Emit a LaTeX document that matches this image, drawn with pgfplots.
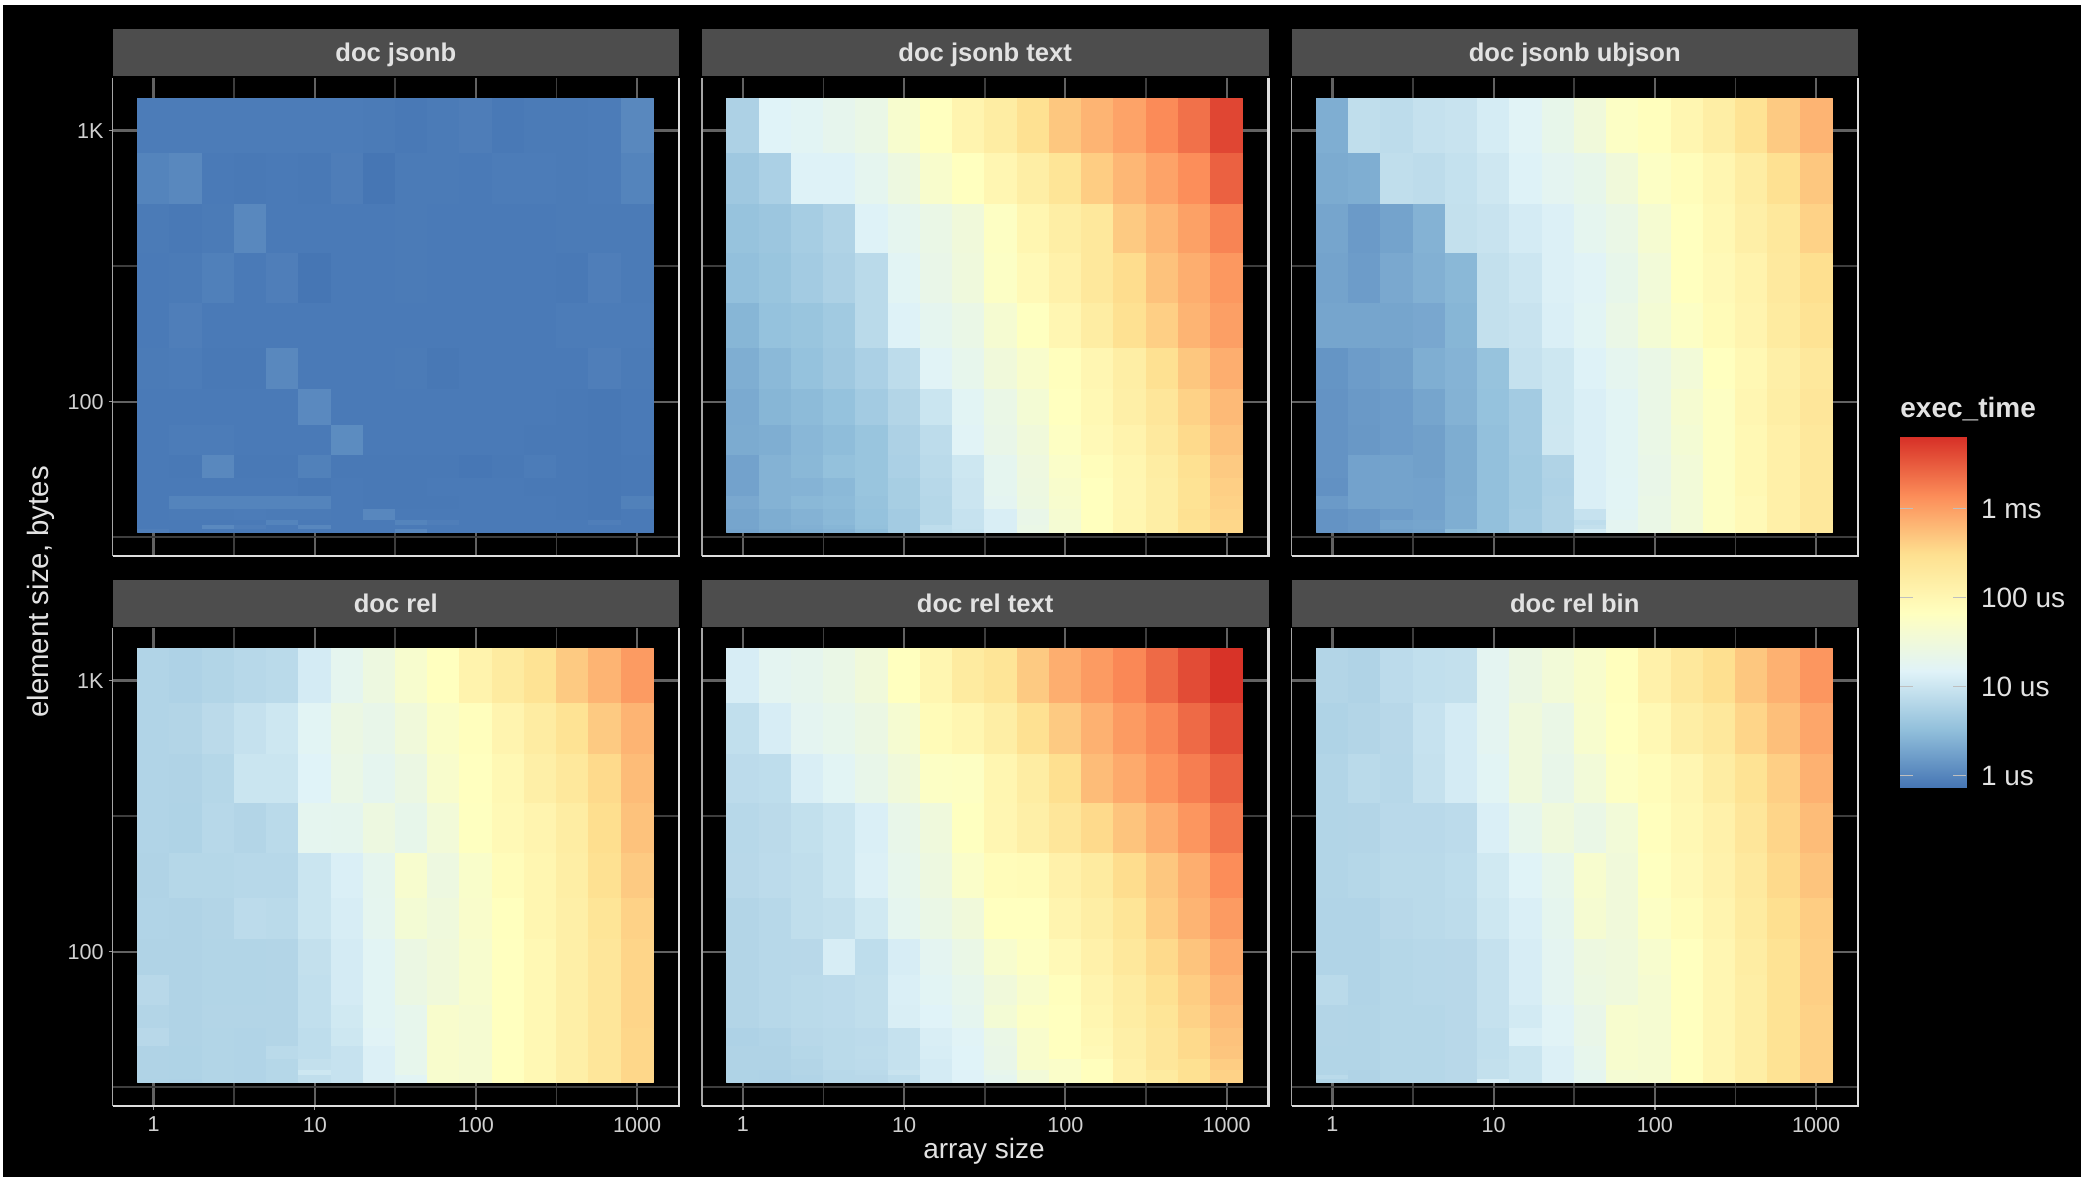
\documentclass[border=0pt]{standalone}
\usepackage{pgfplots}
\usepackage{pgfplotstable}
\usepackage{fontspec}
\setmainfont{Liberation Sans}
\pgfplotsset{compat=1.18}
\definecolor{majgrid}{HTML}{626262}
\definecolor{mingrid}{HTML}{3E3E3E}
\definecolor{stripc}{HTML}{4D4D4D}
\definecolor{txt}{HTML}{E2E2E2}
\definecolor{ticktxt}{HTML}{D0D0D0}
% column and row edges of the cells (array size, element size)
\foreach \v [count=\i from 0] in {0.794,1.259,1.995,3.162,5.012,7.943,12.59,19.95,31.62,50.12,79.43,125.9,199.5,316.2,501.2,794.3,1259}{\expandafter\xdef\csname xe\i\endcsname{\v}}
\foreach \v [count=\i from 0] in {1310,826,535,352,231,158,111,82,63.4,52.1,44.8,40,36.6,35.1,33.9,33}{\expandafter\xdef\csname ye\i\endcsname{\v}}
% log10(exec time in us) as read from the colours; rows from the largest element size down, columns from array size 1 up
\pgfplotstableread[header=false]{
-.07 -.07 -.07 -.07 -.07 -.07 -.07 -.08 -.10 -.08 -.06 -.10 -.08 -.08 -.07 .04
 .00  .04 -.09 -.10 -.09 -.10 -.06 -.13 -.08 -.08 -.09 -.07 -.07 -.08 -.07 .00
-.08 -.10 -.08  .04 -.09 -.09 -.09 -.09 -.08 -.09 -.09 -.09 -.09 -.08 -.08 -.08
-.09 -.08 -.04 -.09 -.05 -.13 -.09 -.09 -.08 -.09 -.09 -.09 -.09 -.10 -.05 -.08
-.09 -.05 -.09 -.09 -.09 -.09 -.09 -.09 -.09 -.09 -.09 -.09 -.09 -.07 -.07 -.07
-.08 -.07 -.10 -.10  .04 -.09 -.09 -.09 -.08 -.11 -.09 -.09 -.09 -.09 -.05 -.08
-.09 -.09 -.09 -.09 -.09  .05 -.09 -.09 -.09 -.09 -.09 -.09 -.09 -.10 -.11 -.09
-.09 -.07 -.07 -.09 -.09 -.09  .07 -.09 -.09 -.09 -.09 -.09 -.10 -.10 -.11 -.09
-.09 -.10  .04 -.10 -.10 -.03 -.10 -.10 -.10 -.10 -.12 -.10 -.07 -.10 -.11 -.10
-.09 -.09 -.09 -.09 -.09 -.11 -.09 -.10 -.10 -.09 -.09 -.09 -.10 -.10 -.11 -.10
-.09  .00  .00  .00  .00  .00 -.09 -.10 -.10 -.10 -.09 -.09 -.09 -.10 -.11 -.03
-.09 -.08 -.08 -.07 -.08 -.08 -.09  .03 -.09 -.09 -.09 -.09 -.09 -.10 -.11 -.09
-.09 -.09 -.09 -.09  .00 -.09 -.09 -.09  .00 -.05 -.09 -.09 -.09 -.09 -.05 -.09
-.09 -.09  .05 -.05 -.09  .03 -.09 -.09 -.09 -.09 -.09 -.09 -.09 -.09 -.09 -.09
-.05 -.09 -.09 -.09 -.09 -.09 -.09 -.09  .03 -.09 -.09 -.09 -.09 -.09 -.09 -.09
}\tabA
\pgfplotstableread[header=false]{
.82 1.34 1.38 1.44 1.50 1.70 1.83 2.00 2.12 2.30 2.55 2.72 2.88 3.10 3.30 3.63
.68 .80 1.32 1.32 1.42 1.55 1.72 1.83 1.97 2.10 2.25 2.50 2.70 2.88 3.07 3.42
.60 .65 .75 .85 1.32 1.42 1.50 1.60 1.80 1.98 2.10 2.20 2.52 2.70 2.90 3.15
.55 .62 .72 .82 .95 1.38 1.48 1.58 1.78 1.92 2.05 2.20 2.35 2.60 2.78 2.98
.45 .58 .62 .70 .95 1.32 1.42 1.50 1.68 1.82 1.97 2.12 2.30 2.48 2.72 2.92
.38 .48 .58 .68 .80 .98 1.36 1.45 1.60 1.72 1.85 1.97 2.10 2.30 2.55 2.78
.34 .45 .50 .58 .72 .88 1.12 1.38 1.50 1.65 1.83 1.95 2.08 2.22 2.45 2.67
.35 .38 .46 .52 .62 .82 .98 1.36 1.48 1.60 1.80 1.92 2.02 2.18 2.38 2.60
.27 .42 .47 .56 .62 .80 .95 1.15 1.42 1.56 1.75 1.87 1.98 2.12 2.30 2.52
.27 .42 .43 .48 .62 .76 .92 1.13 1.42 1.55 1.72 1.84 1.97 2.10 2.28 2.48
.33 .42 .47 .50 .60 .76 .90 1.13 1.40 1.54 1.70 1.84 1.97 2.10 2.28 2.45
.30 .37 .42 .47 .58 .72 .90 1.08 1.27 1.48 1.68 1.84 1.98 2.10 2.30 2.42
.30 .37 .42 .48 .58 .72 .90 1.08 1.27 1.48 1.66 1.84 1.98 2.10 2.28 2.40
.30 .37 .40 .45 .56 .72 1.00 1.08 1.27 1.50 1.66 1.84 1.98 2.10 2.28 2.40
.28 .35 .38 .42 .52 .72 1.00 1.06 1.27 1.50 1.66 1.84 1.98 2.10 2.28 2.40
}\tabB
\pgfplotstableread[header=false]{
.38 1.02 .98 1.07 1.10 1.23 1.36 1.46 1.60 1.78 1.85 1.98 2.10 2.28 2.52 2.72
.35 .38 1.02 .98 1.06 1.16 1.32 1.40 1.46 1.60 1.78 1.87 1.98 2.12 2.30 2.55
.30 .20 .28 .42 1.05 1.10 1.22 1.30 1.42 1.50 1.68 1.83 1.95 2.08 2.20 2.45
.28 .22 .33 .40 .47 1.05 1.14 1.30 1.36 1.46 1.62 1.83 1.92 2.02 2.18 2.32
.30 .30 .30 .32 .45 1.05 1.10 1.28 1.38 1.50 1.65 1.78 1.90 2.00 2.15 2.28
.15 .22 .25 .38 .43 .60 1.07 1.15 1.32 1.42 1.50 1.62 1.83 1.95 2.08 2.20
.14 .19 .22 .30 .42 .58 .72 1.15 1.28 1.38 1.50 1.68 1.80 1.97 2.10 2.22
.14 .18 .22 .25 .37 .55 .72 1.16 1.28 1.38 1.50 1.65 1.80 1.95 2.07 2.20
.14 .27 .28 .25 .37 .55 .70 .85 1.28 1.38 1.48 1.62 1.80 1.95 2.07 2.20
.12 .27 .28 .27 .37 .55 .70 .83 1.28 1.37 1.48 1.62 1.80 1.95 2.07 2.20
.20 .27 .28 .27 .38 .55 .70 .85 1.28 1.37 1.50 1.62 1.80 1.92 2.07 2.20
.14 .17 .22 .27 .38 .55 .72 .85 1.08 1.38 1.50 1.62 1.80 1.92 2.07 2.20
.14 .17 .28 .30 .38 .55 .72 .85 1.00 1.40 1.50 1.62 1.80 1.92 2.07 2.20
.14 .17 .28 .30 .38 .55 .72 .85 1.05 1.40 1.50 1.62 1.80 1.92 2.07 2.20
.14 .17 .25 .28 .50 .55 .72 .85 1.20 1.40 1.50 1.62 1.80 1.92 2.07 2.20
}\tabC
\pgfplotstableread[header=false]{
.86 .83 .87 .92 .95 1.22 1.42 1.55 1.70 1.83 2.02 2.15 2.28 2.52 2.72 2.95
.86 .88 .96 1.07 1.15 1.38 1.52 1.47 1.60 1.76 1.85 2.00 2.13 2.28 2.52 2.72
.86 .85 .90 1.12 1.12 1.34 1.50 1.42 1.52 1.72 1.83 1.95 2.08 2.20 2.38 2.65
.86 .84 .92 .88 .95 1.42 1.43 1.55 1.46 1.62 1.82 1.93 2.00 2.12 2.33 2.60
.85 .90 .90 .92 .92 1.12 1.28 1.43 1.70 1.55 1.74 1.88 1.98 2.10 2.30 2.52
.86 .85 .88 .97 .95 1.12 1.25 1.42 1.65 1.58 1.73 1.84 1.98 2.08 2.25 2.45
.85 .85 .87 .87 .88 1.05 1.22 1.38 1.52 1.60 1.70 1.83 1.95 2.08 2.22 2.42
.93 .85 .87 .87 .88 1.03 1.22 1.38 1.52 1.60 1.70 1.83 1.95 2.08 2.22 2.42
.88 .85 .88 .88 .88 1.03 1.18 1.38 1.45 1.72 1.68 1.83 1.95 2.08 2.22 2.42
.93 .85 .87 .86 .88 1.00 1.15 1.36 1.45 1.72 1.68 1.83 1.95 2.08 2.22 2.40
.85 .84 .87 .86 .95 1.00 1.08 1.30 1.45 1.72 1.68 1.83 1.95 2.08 2.22 2.40
.85 .84 .87 .86 .90 1.05 1.08 1.30 1.45 1.72 1.68 1.83 1.95 2.08 2.22 2.40
.85 .84 .87 .86 .90 1.15 1.08 1.30 1.45 1.70 1.68 1.83 1.95 2.08 2.22 2.40
.85 .84 .87 .86 .90 1.02 1.08 1.30 1.38 1.70 1.68 1.83 1.95 2.08 2.22 2.40
.84 .83 .87 .86 .90 1.02 1.08 1.30 1.38 1.70 1.68 1.83 1.95 2.08 2.22 2.40
}\tabD
\pgfplotstableread[header=false]{
1.25 1.40 1.44 1.50 1.60 1.83 1.98 2.15 2.25 2.52 2.78 2.95 3.12 3.35 3.58 3.78
1.03 1.25 1.40 1.45 1.52 1.68 1.90 1.98 2.10 2.30 2.52 2.75 2.95 3.13 3.35 3.58
.97 1.00 1.27 1.38 1.47 1.60 1.78 1.80 1.98 2.12 2.32 2.65 2.82 3.02 3.20 3.42
.92 .96 1.04 1.12 1.28 1.47 1.58 1.82 1.97 2.08 2.22 2.38 2.58 2.78 3.00 3.25
.93 .97 1.02 1.12 1.30 1.45 1.55 1.75 1.88 1.90 2.05 2.15 2.35 2.55 2.78 3.08
.88 .92 1.02 1.05 1.18 1.42 1.50 1.60 1.83 1.83 2.00 2.10 2.25 2.50 2.72 2.95
.88 .92 .93 1.25 1.00 1.25 1.40 1.50 1.70 1.80 1.92 2.05 2.20 2.38 2.58 2.82
.88 .92 .95 .97 1.02 1.28 1.38 1.45 1.60 1.72 1.85 2.00 2.13 2.30 2.50 2.72
.88 .92 .95 .97 1.02 1.27 1.34 1.42 1.65 1.78 1.83 1.98 2.12 2.25 2.45 2.65
.83 .86 .93 .95 .97 1.07 1.27 1.36 1.50 1.72 1.83 1.95 2.08 2.22 2.38 2.60
.85 .85 .90 .95 .98 1.07 1.25 1.34 1.48 1.72 1.83 1.92 2.08 2.22 2.38 2.57
.85 .85 .88 .95 .97 1.07 1.22 1.34 1.48 1.72 1.75 1.85 2.05 2.22 2.30 2.50
.84 .83 .88 .92 .95 1.10 1.22 1.33 1.45 1.62 1.75 1.85 2.05 2.15 2.30 2.45
.84 .83 .86 .92 .93 1.00 1.22 1.33 1.42 1.62 1.75 1.85 2.05 2.15 2.30 2.45
.84 .83 .86 .92 .93 1.00 1.22 1.33 1.42 1.62 1.75 1.85 2.05 2.15 2.30 2.45
}\tabE
\pgfplotstableread[header=false]{
.88 .85 .97 1.03 1.05 1.40 1.52 1.62 1.72 1.85 2.05 2.20 2.32 2.55 2.75 3.00
.84 .88 .93 1.08 1.22 1.40 1.58 1.50 1.70 1.83 1.95 2.10 2.20 2.42 2.62 2.85
.87 .95 .92 1.07 1.22 1.38 1.58 1.47 1.62 1.80 1.88 1.97 2.12 2.28 2.48 2.75
.87 .88 .94 .94 .97 1.28 1.45 1.58 1.50 1.62 1.85 1.95 2.05 2.22 2.42 2.65
.87 .90 .95 .95 1.00 1.18 1.35 1.45 1.70 1.60 1.82 1.92 2.03 2.18 2.38 2.58
.86 .86 .93 .95 .98 1.15 1.28 1.43 1.68 1.60 1.78 1.88 2.00 2.15 2.32 2.50
.86 .86 .90 .92 .93 1.07 1.25 1.40 1.55 1.58 1.70 1.83 1.97 2.12 2.28 2.48
.95 .86 .90 .92 .93 1.07 1.25 1.40 1.53 1.58 1.68 1.83 1.97 2.10 2.28 2.48
.88 .87 .90 .90 .93 1.07 1.20 1.36 1.48 1.70 1.68 1.83 1.97 2.10 2.28 2.45
.88 .87 .90 .90 .93 1.03 1.28 1.36 1.48 1.70 1.68 1.83 1.97 2.10 2.28 2.45
.87 .87 .90 .90 .93 1.03 1.12 1.30 1.45 1.70 1.68 1.83 1.97 2.10 2.28 2.45
.87 .87 .90 .90 .93 1.05 1.12 1.30 1.45 1.70 1.68 1.83 1.97 2.10 2.28 2.45
.87 .85 .90 .90 .93 1.05 1.12 1.30 1.42 1.66 1.68 1.83 1.97 2.10 2.28 2.45
.95 .85 .90 .90 .93 1.05 1.12 1.30 1.42 1.66 1.68 1.83 1.97 2.10 2.28 2.45
.87 .85 .90 .90 .93 1.25 1.12 1.30 1.42 1.66 1.68 1.83 1.97 2.10 2.28 2.45
}\tabF
% turn one table into the rectangles of one heat map, before the axes start
\newcommand{\buildcells}[2]{%
  \gdef\cellsnow{}%
  \pgfplotsforeachungrouped \ridx in {0,...,14}{%
    \pgfplotsforeachungrouped \cidx in {0,...,15}{%
      \pgfplotstablegetelem{\ridx}{\cidx}\of{#1}%
      \let\val\pgfplotsretval
      \pgfmathtruncatemacro\rnext{\ridx+1}%
      \pgfmathtruncatemacro\cnext{\cidx+1}%
      \edef\xa{\csname xe\cidx\endcsname}\edef\xb{\csname xe\cnext\endcsname}%
      \edef\ya{\csname ye\ridx\endcsname}\edef\yb{\csname ye\rnext\endcsname}%
      \xdef\cellsnow{\cellsnow (\xa,\yb)[\val] (\xb,\yb)[\val] (\xb,\ya)[\val] (\xa,\ya)[\val]}%
    }%
  }%
  \global\let#2\cellsnow
}
\newcommand{\plotcells}[1]{%
  \edef\heattmp{\noexpand\addplot[patch, patch type=rectangle, shader=flat, point meta=explicit] coordinates {#1};}\heattmp
}
% legend map: seven RdYlBu stops evenly spaced; cell map: same stops placed for the scale of the tables
\pgfplotsset{colormap={rdylbu}{rgb255=(69,117,180) rgb255=(145,191,219) rgb255=(224,243,248) rgb255=(255,255,191) rgb255=(254,224,144) rgb255=(252,141,89) rgb255=(215,48,39)}}
\pgfplotsset{colormap={rdylbucells}{rgb255(0cm)=(69,117,180) rgb255(67cm)=(145,191,219) rgb255(148cm)=(224,243,248) rgb255(197cm)=(255,255,191) rgb255(246cm)=(254,224,144) rgb255(322cm)=(252,141,89) rgb255(394cm)=(215,48,39)}}
\pgfplotsset{
  metarange/.style={point meta min=-0.135, point meta max=3.80},
  hmpanel/.style={
    colormap name=rdylbucells, metarange, scale only axis, width=283.25pt, height=239pt, anchor=south west,
    clip=false,
    xmin=0.557, xmax=1820, ymin=27.0, ymax=1563,
    xtick={1,10,100,1000}, ytick={100,1000},
    minor xtick={3.162,31.62,316.2}, minor ytick={31.62,316.2},
    xticklabels={}, yticklabels={},
    grid=both,
    major grid style={majgrid, line width=1.1pt},
    minor grid style={mingrid, line width=0.9pt},
    axis line style={draw=none},
    tick style={draw=none},
    tick align=outside,
    major tick length=2pt, minor tick length=0pt,
    ticklabel style={text=ticktxt, font=\fontsize{10.8}{13}\selectfont},
    xtick pos=bottom, ytick pos=left,
    execute at end axis={
      \draw[black!35!white, line width=0.7pt] (rel axis cs:0,0)--(rel axis cs:0,1);
      \draw[white!87!black, line width=1.1pt] (rel axis cs:0,0)--(rel axis cs:1,0)--(rel axis cs:1,1);
    },
  },
  xlab/.style={xticklabels={1,10,100,1000}, xtick style={draw=gray!80!white, line width=0.6pt}},
  ylab/.style={yticklabels={100,1K}, ytick style={draw=gray!80!white, line width=0.6pt}, yticklabel style={xshift=1pt}},
}
\newcommand{\strip}[3]{% west, south, label
  \fill[stripc] (#1pt,#2pt) rectangle ++(283.25pt,23.5pt);
  \node[anchor=base, inner sep=0pt, text=txt, font=\bfseries\fontsize{12.8}{15}\selectfont] at ([xshift=141.6pt,yshift=7.1pt]#1pt,#2pt) {#3};
}
\buildcells{\tabA}{\cellsA}
\buildcells{\tabB}{\cellsB}
\buildcells{\tabC}{\cellsC}
\buildcells{\tabD}{\cellsD}
\buildcells{\tabE}{\cellsE}
\buildcells{\tabF}{\cellsF}
\begin{document}%
\begin{tikzpicture}
\fill[white] (0,0) rectangle (1040.5pt,588.5pt);
\fill[black] (1.5pt,0) rectangle (1040.5pt,586pt);
\path[use as bounding box] (0,0) rectangle (1040.5pt,588.5pt);

\begin{loglogaxis}[hmpanel, ylab, at={(56.3pt,310.5pt)}]
\plotcells{\cellsA}
\end{loglogaxis}
\begin{loglogaxis}[hmpanel, at={(351pt,310.5pt)}]
\plotcells{\cellsB}
\end{loglogaxis}
\begin{loglogaxis}[hmpanel, at={(645.75pt,310.5pt)}]
\plotcells{\cellsC}
\end{loglogaxis}
\begin{loglogaxis}[hmpanel, ylab, xlab, at={(56.3pt,35.5pt)}]
\plotcells{\cellsD}
\end{loglogaxis}
\begin{loglogaxis}[hmpanel, xlab, at={(351pt,35.5pt)}]
\plotcells{\cellsE}
\end{loglogaxis}
\begin{loglogaxis}[hmpanel, xlab, at={(645.75pt,35.5pt)}]
\plotcells{\cellsF}
\end{loglogaxis}

\strip{56.3}{550.5}{doc jsonb}
\strip{351}{550.5}{doc jsonb text}
\strip{645.75}{550.5}{doc jsonb ubjson}
\strip{56.3}{275}{doc rel}
\strip{351}{275}{doc rel text}
\strip{645.75}{275}{doc rel bin}

\node[text=txt, font=\fontsize{14}{16}\selectfont] at (492pt,12.8pt) {array size};
\node[text=txt, rotate=90, font=\fontsize{14.7}{16}\selectfont] at (20.5pt,292.5pt) {element size, bytes};

% legend
\node[anchor=west, inner sep=0pt, text=txt, font=\bfseries\fontsize{14}{16}\selectfont] at (950pt,384pt) {exec\_time};
\begin{axis}[colormap name=rdylbu, metarange, scale only axis, anchor=south west, at={(950pt,194.5pt)}, width=33pt, height=175.35pt,
  xmin=0, xmax=1, ymin=-0.135, ymax=3.80,
  xtick=\empty, ytick={0,1,2,3}, yticklabels={1 us,10 us,100 us,1 ms},
  axis line style={draw=none},
  ytick pos=both, yticklabel pos=right, tick align=inside,
  major tick length=6.5pt, tick style={white!75!black, line width=0.5pt},
  yticklabel style={text=txt, font=\fontsize{14}{16}\selectfont, anchor=west, xshift=4pt},
  axis on top]
\addplot[surf, shader=interp, mesh/cols=2, point meta=explicit] coordinates {
(0,-0.135)[-0.135] (1,-0.135)[-0.135]
(0,0.521)[0.521] (1,0.521)[0.521]
(0,1.177)[1.177] (1,1.177)[1.177]
(0,1.833)[1.833] (1,1.833)[1.833]
(0,2.489)[2.489] (1,2.489)[2.489]
(0,3.145)[3.145] (1,3.145)[3.145]
(0,3.80)[3.80] (1,3.80)[3.80]
};
\end{axis}
\end{tikzpicture}%
\end{document}
